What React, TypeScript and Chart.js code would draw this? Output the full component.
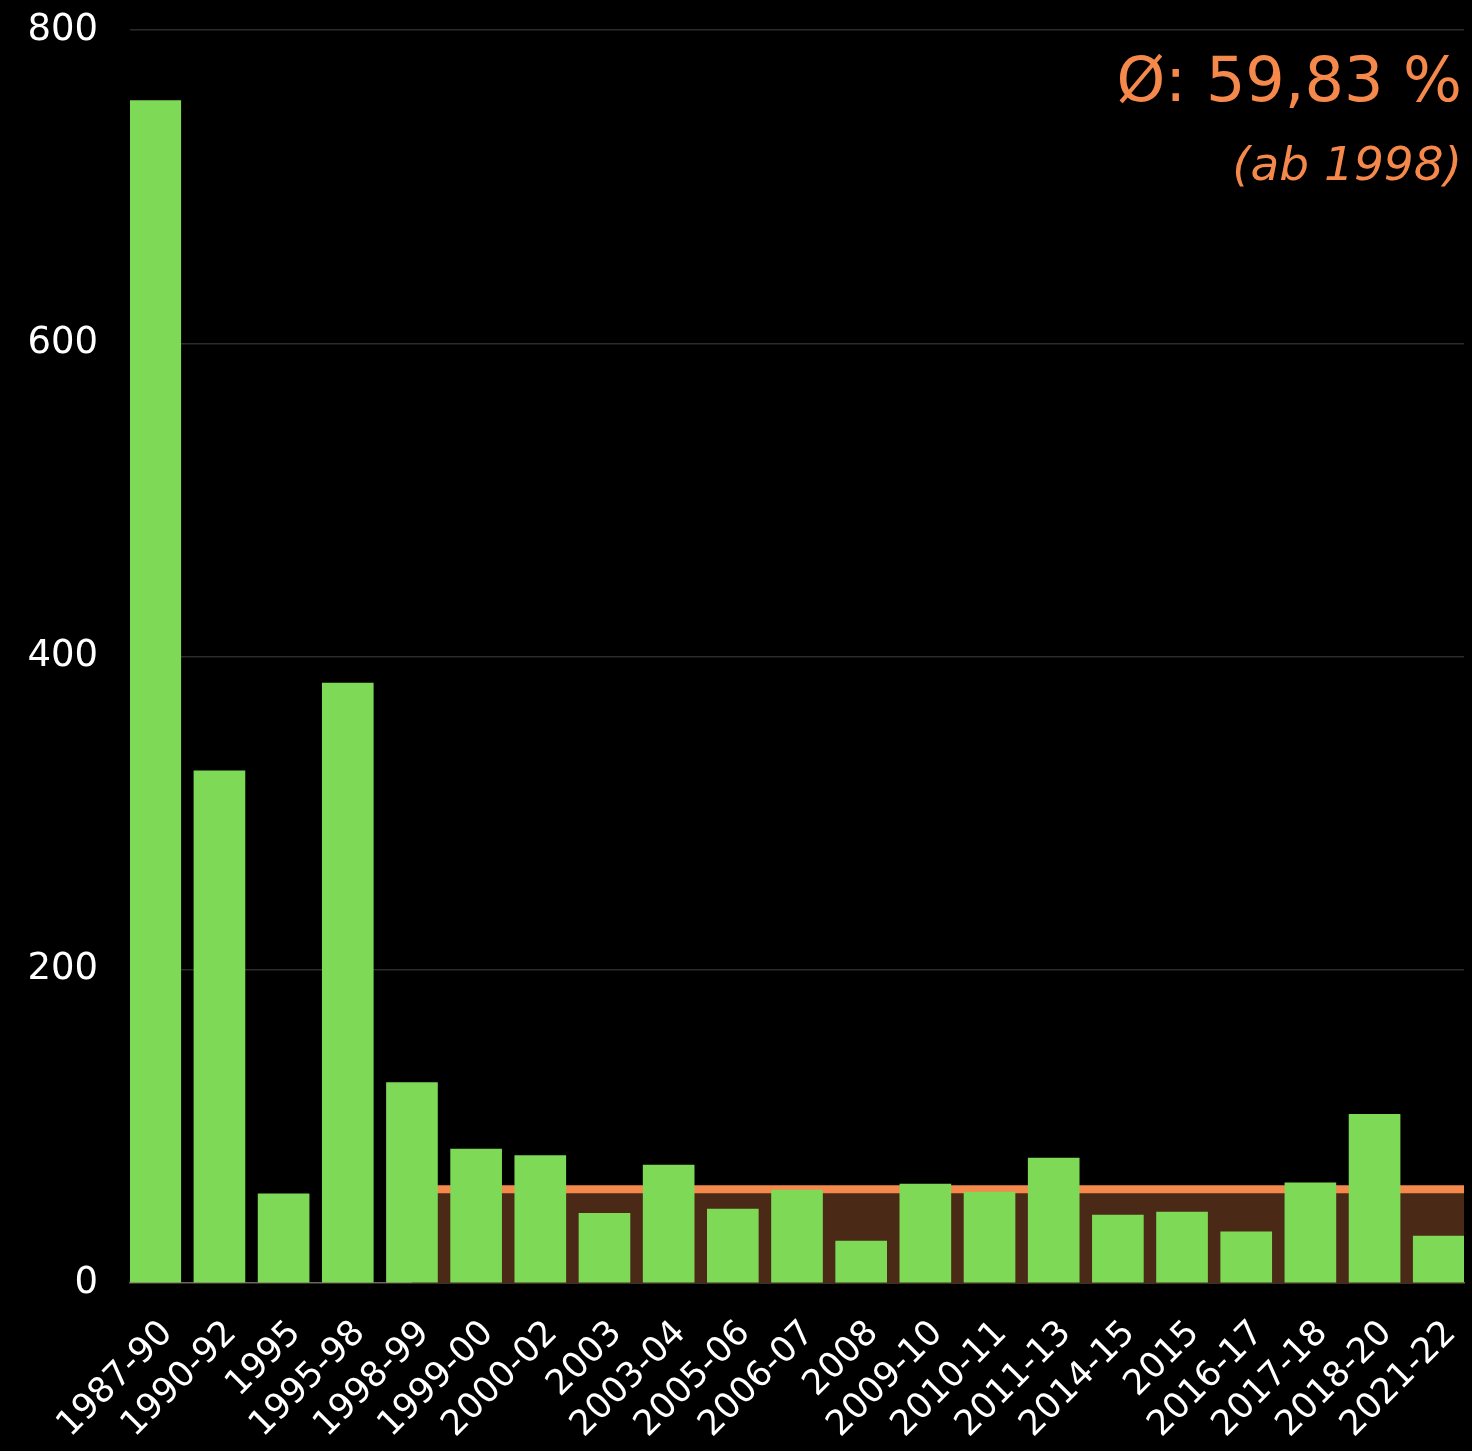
import React, { useEffect, useRef } from 'react';
import { Chart, registerables } from 'chart.js';

Chart.register(...registerables);

const categories = [
  '1987-90', '1990-92', '1995', '1995-98', '1998-99', '1999-00', '2000-02',
  '2003', '2003-04', '2005-06', '2006-07', '2008', '2009-10', '2010-11',
  '2011-13', '2014-15', '2015', '2016-17', '2017-18', '2018-20', '2021-22',
];
const values = [
  755, 327, 57, 383, 128, 85.5, 81.3,
  44.5, 75.3, 47.2, 59.4, 26.8, 63.2, 58.1,
  79.8, 43.4, 45.3, 32.6, 64.0, 107.7, 30.0,
];
const yTickValues = [0, 200, 400, 600, 800];
const averageValue = 59.83;
const averageStartIndex = 4;
const averageLabel = 'Ø: 59,83 %';
const averageSubLabel = '(ab 1998)';

const HALF = 0.3936;
const FONT = '"DejaVu Sans", sans-serif';

export default function App() {
  const ref = useRef<HTMLCanvasElement | null>(null);

  useEffect(() => {
    document.body.style.background = '#000';
    const canvas = ref.current;
    if (!canvas) return;

    const textPlugin = {
      id: 'avgText',
      beforeDraw(chart: any) {
        const c = chart.ctx;
        c.save();
        c.fillStyle = '#000';
        c.fillRect(0, 0, chart.width, chart.height);
        c.restore();
      },
      afterDraw(chart: any) {
        const c = chart.ctx;
        c.save();
        c.fillStyle = '#f5884b';
        c.textAlign = 'right';
        c.textBaseline = 'alphabetic';
        c.font = `62px ${FONT}`;
        c.fillText(averageLabel, 1462, 101);
        c.font = `italic 47px ${FONT}`;
        c.fillText(averageSubLabel, 1462, 180);
        c.restore();
      },
    };

    const chart = new Chart(canvas, {
      type: 'bar',
      data: {
        datasets: [
          {
            type: 'bar',
            data: values.map((v, i) => ({ x: i, y: v })),
            backgroundColor: '#7ed957',
            borderWidth: 0,
            barThickness: 51,
            order: 1,
          } as any,
          {
            type: 'line',
            data: [
              { x: averageStartIndex, y: averageValue },
              { x: categories.length - 1 + HALF, y: averageValue },
            ],
            borderColor: '#f5884b',
            borderWidth: 8,
            backgroundColor: '#4a2916',
            fill: 'origin',
            pointRadius: 0,
            tension: 0,
            order: 2,
          } as any,
        ],
      },
      options: {
        responsive: false,
        animation: false,
        devicePixelRatio: 1,
        layout: { padding: { top: 30, right: 8, left: 0, bottom: 0 } },
        plugins: {
          legend: { display: false },
          tooltip: { enabled: false },
        },
        scales: {
          x: {
            type: 'linear',
            offset: false,
            min: -HALF,
            max: categories.length - 1 + HALF,
            afterBuildTicks: (s: any) => {
              s.ticks = categories.map((_, i) => ({ value: i }));
            },
            afterFit: (s: any) => {
              s.height = 1451 - 1283;
              s.paddingLeft = 0;
              s.paddingRight = 0;
              s.paddingTop = 0;
              s.paddingBottom = 0;
            },
            ticks: {
              autoSkip: false,
              maxRotation: 45,
              minRotation: 45,
              color: '#ffffff',
              padding: 30,
              labelOffset: 12,
              font: { family: FONT, size: 35 },
              callback: (v: any) => categories[v as number] ?? '',
            },
            grid: { display: false, drawTicks: false },
            border: { display: true, color: '#6e6459', width: 1.5 },
          },
          y: {
            min: 0,
            max: 800,
            afterBuildTicks: (s: any) => {
              s.ticks = yTickValues.map((v) => ({ value: v }));
            },
            afterFit: (s: any) => {
              s.width = 130;
              s.paddingLeft = 0;
              s.paddingRight = 0;
              s.paddingTop = 0;
              s.paddingBottom = 0;
            },
            ticks: {
              color: '#ffffff',
              padding: 32,
              font: { family: FONT, size: 37 },
            },
            grid: {
              drawTicks: false,
              color: (ctx: any) => (ctx.tick && ctx.tick.value === 0 ? 'rgba(0,0,0,0)' : '#2b2b2b'),
              lineWidth: 1.5,
            },
            border: { display: false },
          },
        },
      },
      plugins: [textPlugin],
    });

    return () => chart.destroy();
  }, []);

  return (
    <div style={{ position: 'absolute', left: 0, top: 0, width: 1472, height: 1451, background: '#000' }}>
      <canvas ref={ref} width={1472} height={1451} style={{ width: 1472, height: 1451, display: 'block' }} />
    </div>
  );
}
